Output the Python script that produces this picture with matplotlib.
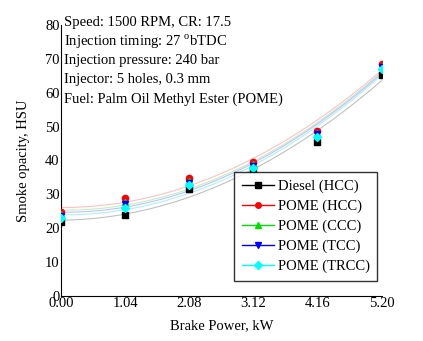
import numpy as np
import matplotlib
matplotlib.use("Agg")
from matplotlib import pyplot as plt

plt.rcParams["font.family"] = ["Liberation Serif", "DejaVu Serif"]

power = [0.00, 1.04, 2.08, 3.12, 4.16, 5.20]
diesel_hcc = [21.8, 23.9, 31.6, 37.4, 45.5, 65.3]
pome_hcc = [24.8, 28.9, 34.8, 39.6, 48.8, 68.5]
pome_ccc = [24.2, 27.7, 33.9, 38.9, 48.1, 67.9]
pome_tcc = [23.6, 27.1, 33.3, 38.5, 47.7, 67.5]
pome_trcc = [23.0, 26.0, 32.7, 37.9, 47.0, 67.0]

series = [
    ("Diesel (HCC)", diesel_hcc, "black", "s", "#c0c0c0"),
    ("POME (HCC)", pome_hcc, "red", "o", "#ffc0c0"),
    ("POME (CCC)", pome_ccc, "#00e000", "^", "#c0f0c0"),
    ("POME (TCC)", pome_tcc, "blue", "v", "#c0c0ff"),
    ("POME (TRCC)", pome_trcc, "cyan", "D", "#b0f0f0"),
]

FS = 10.5

fig = plt.figure(figsize=(4.23, 3.41), dpi=100)
ax = fig.add_axes([0.144, 0.132, 0.758, 0.795])

# pale trend curves behind the markers
xs = np.linspace(0, 5.2, 100)
for name, vals, col, mk, trend in series:
    coef = np.polyfit(power, vals, 2)
    ax.plot(xs, np.polyval(coef, xs), color=trend, lw=0.8, zorder=2)
for name, vals, col, mk, trend in series:
    ax.plot(power, vals, linestyle="none", marker=mk, color=col,
            markersize=4.5 if mk != "D" else 4, zorder=3)

handles = [plt.Line2D([], [], color=col, marker=mk, markersize=4, lw=1)
           for name, vals, col, mk, trend in series]
leg = ax.legend(handles, [s[0] for s in series], loc="lower right",
                bbox_to_anchor=(1.01, 0.03), fontsize=FS, frameon=True,
                fancybox=False, edgecolor="black", handlelength=2.2,
                handletextpad=0.3, labelspacing=0.45, borderpad=0.5)
leg.get_frame().set_linewidth(1.0)

ax.set_xlim(0, 5.2)
ax.set_ylim(0, 80)
ax.set_xticks(power)
ax.set_xticklabels([f"{p:.2f}" for p in power])
ax.set_yticks(range(0, 81, 10))
ax.tick_params(length=0, labelsize=FS, pad=1)
ax.spines["top"].set_visible(False)
ax.spines["right"].set_visible(False)
ax.set_xlabel("Brake Power, kW", fontsize=FS, labelpad=6)
ax.set_ylabel("Smoke opacity, HSU", fontsize=FS, labelpad=11)

notes = [
    "Speed: 1500 RPM, CR: 17.5",
    "Injection timing: 27 $^{\\mathregular{o}}$bTDC",
    "Injection pressure: 240 bar",
    "Injector: 5 holes, 0.3 mm",
    "Fuel: Palm Oil Methyl Ester (POME)",
]
for i, t in enumerate(notes):
    ax.text(0.01, 1.007 - i * 0.070, t, transform=ax.transAxes,
            fontsize=FS, va="center", ha="left")

fig.savefig("out.png", dpi=100)
